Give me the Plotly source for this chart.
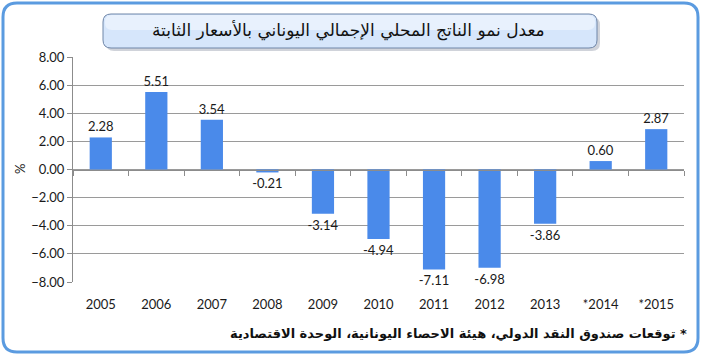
import plotly.graph_objects as go

years = ["2005", "2006", "2007", "2008", "2009", "2010", "2011", "2012", "2013", "*2014", "*2015"]
growth = [2.28, 5.51, 3.54, -0.21, -3.14, -4.94, -7.11, -6.98, -3.86, 0.60, 2.87]
y_ticks = [-8, -6, -4, -2, 0, 2, 4, 6, 8]

title_text = "معدل نمو الناتج المحلي الإجمالي اليوناني بالأسعار الثابتة"
footnote = "توقعات صندوق النقد الدولي، هيئة الاحصاء اليونانية، الوحدة الاقتصادية *"

W, H = 702, 356
L, R, T, B = 73, 18, 57, 74
PW, PH = W - L - R, H - T - B


def px(x):
    return (x - L) / PW


def py(y):
    return (H - B - y) / PH


def rrect(x0, y0, x1, y1, r):
    rx, ry = r / PW, r / PH
    X0, X1 = px(x0), px(x1)
    Y0, Y1 = py(y0), py(y1)  # Y0 top (larger), Y1 bottom
    return (f"M {X0+rx},{Y0} L {X1-rx},{Y0} Q {X1},{Y0} {X1},{Y0-ry} "
            f"L {X1},{Y1+ry} Q {X1},{Y1} {X1-rx},{Y1} L {X0+rx},{Y1} "
            f"Q {X0},{Y1} {X0},{Y1+ry} L {X0},{Y0-ry} Q {X0},{Y0} {X0+rx},{Y0} Z")


font_num = "Lato, 'Open Sans', sans-serif"

fig = go.Figure()
fig.add_trace(go.Bar(
    x=years, y=growth,
    marker=dict(color="#4A8AEA", line=dict(width=0)),
    width=0.4,
    text=[f"{v:.2f}" for v in growth],
    textposition="outside",
    constraintext="none",
    textfont=dict(family=font_num, size=13, color="#1a1a1a"),
    cliponaxis=False,
    hoverinfo="x+y",
))
# helper trace for the zero-line tick axis
fig.add_trace(go.Scatter(x=years, y=[0] * len(years), xaxis="x2", mode="markers",
                         marker=dict(opacity=0), hoverinfo="skip", showlegend=False))

fig.update_layout(
    width=W, height=H,
    margin=dict(l=L, r=R, t=T, b=B),
    paper_bgcolor="white", plot_bgcolor="white",
    showlegend=False,
    xaxis=dict(
        type="category", categoryarray=years, range=[-0.5, 10.5],
        showgrid=False, showline=False, ticks="", zeroline=False,
        tickfont=dict(family=font_num, size=13, color="#1a1a1a"),
        ticklabelstandoff=13,
    ),
    xaxis2=dict(
        type="category", categoryarray=years, range=[-0.5, 10.5],
        overlaying="x", anchor="free", position=0.5, side="bottom",
        showline=True, linecolor="#8c8c8c", linewidth=1,
        ticks="outside", tickson="boundaries", ticklen=5, tickcolor="#8c8c8c",
        showticklabels=False, showgrid=False, zeroline=False,
    ),
    yaxis=dict(
        range=[-8, 8], tickvals=y_ticks, tickformat=".2f",
        showgrid=True, gridcolor="#9a9a9a", gridwidth=1,
        zeroline=False,
        showline=True, linecolor="#8c8c8c", linewidth=1,
        ticks="outside", ticklen=5, tickcolor="#8c8c8c",
        tickfont=dict(family=font_num, size=13, color="#1a1a1a"),
    ),
    shapes=[
        dict(type="path", xref="paper", yref="paper", path=rrect(3, 3, 698, 352, 14),
             line=dict(color="#5B9BE0", width=3), fillcolor="rgba(0,0,0,0)", layer="below"),
        dict(type="path", xref="paper", yref="paper", path=rrect(106, 17, 600, 51, 8),
             line=dict(width=0), fillcolor="rgba(120,130,150,0.35)", layer="above"),
        dict(type="path", xref="paper", yref="paper", path=rrect(103, 14, 597, 48, 8),
             line=dict(color="#6f86a8", width=1), fillcolor="#d6e6fb", layer="above"),
        dict(type="path", xref="paper", yref="paper", path=rrect(105, 15, 595, 30, 7),
             line=dict(width=0), fillcolor="rgba(255,255,255,0.45)", layer="above"),
    ],
    annotations=[
        dict(text=title_text, xref="paper", yref="paper", x=px(348), y=py(31),
             showarrow=False, xanchor="center", yanchor="middle",
             font=dict(family="DejaVu Sans", size=17, color="#111111")),
        dict(text="%", xref="paper", yref="paper", x=px(20), y=py(169),
             showarrow=False, textangle=-90, xanchor="center", yanchor="middle",
             font=dict(family=font_num, size=13, color="#1a1a1a")),
        dict(text="<b>" + footnote + "</b>", xref="paper", yref="paper", x=px(689), y=py(333),
             showarrow=False, xanchor="right", yanchor="middle",
             font=dict(family="DejaVu Sans", size=13, color="#111111")),
    ],
)

fig.write_html("out.html", config={"displayModeBar": False},
               post_script="document.body.style.margin='0';")
